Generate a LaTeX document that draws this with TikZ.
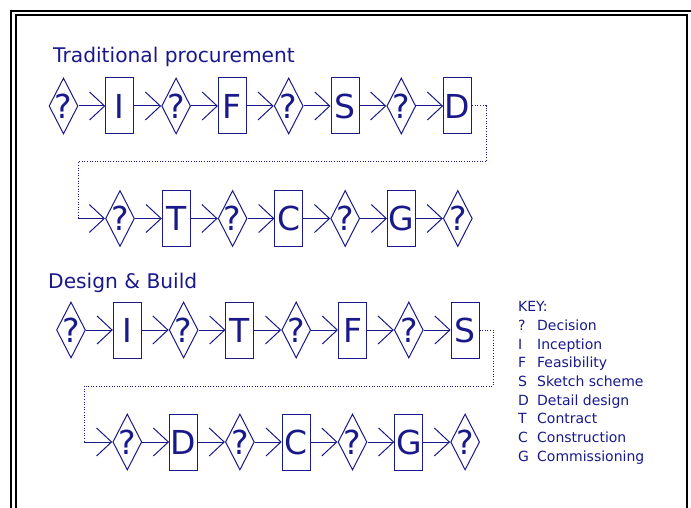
\documentclass[tikz,border=0pt]{standalone}
\usepackage{fontspec}
\setmainfont{DejaVu Sans}
\usetikzlibrary{shapes.geometric,arrows.meta}
\definecolor{navy}{RGB}{25,25,140}
\begin{document}
\begin{tikzpicture}[x=1pt,y=-1pt,
  bigtxt/.style={font=\fontsize{33}{33}\selectfont, text=navy, inner sep=0pt},
  dia/.style={draw=navy, line width=1pt, diamond, minimum width=29pt, minimum height=56pt, inner sep=0pt, label={[bigtxt]center:?}},
  box/.style={draw=navy, line width=1pt, rectangle, minimum width=28pt, minimum height=56pt, inner sep=0pt, font=\fontsize{33}{33}\selectfont, text=navy},
  flow/.style={draw=navy, line width=1pt, -{Straight Barb[length=15pt,width=28pt,line width=1pt]}},
  dotline/.style={draw=navy, line width=1pt, dash pattern=on 1pt off 1.6pt},
  title/.style={font=\fontsize{20.2}{22}\selectfont, text=navy, anchor=base west, inner sep=0pt},
  keytxt/.style={font=\fontsize{14}{16}\selectfont, text=navy, anchor=base west, inner sep=0pt},
  frameline/.style={draw=black, line width=2.5pt}
]
\useasboundingbox (0,0) rectangle (691,508);
\begin{scope}
\clip (0,0) rectangle (691,508);
\draw[frameline] (11,11) rectangle (693,520);
\draw[frameline, line width=2pt] (15.5,15.5) rectangle (687,520);
\end{scope}

% titles
\node[title] (t1title) at (53,63) {Traditional procurement};
\node[title] (t2title) at (48,288) {Design \& Build};

% row 1
\node[dia] (a1) at (63.5,106) {};
\node[box] (a2) at (119.8,106) {I};
\node[dia] (a3) at (176.1,106) {};
\node[box] (a4) at (232.4,106) {F};
\node[dia] (a5) at (288.7,106) {};
\node[box] (a6) at (345.0,106) {S};
\node[dia] (a7) at (401.3,106) {};
\node[box] (a8) at (457.6,106) {D};
% row 2
\node[dia] (b1) at (120.0,218.5) {};
\node[box] (b2) at (176.3,218.5) {T};
\node[dia] (b3) at (232.6,218.5) {};
\node[box] (b4) at (288.9,218.5) {C};
\node[dia] (b5) at (345.2,218.5) {};
\node[box] (b6) at (401.5,218.5) {G};
\node[dia] (b7) at (457.8,218.5) {};
% row 3
\node[dia] (c1) at (71.0,330) {};
\node[box] (c2) at (127.3,330) {I};
\node[dia] (c3) at (183.6,330) {};
\node[box] (c4) at (239.9,330) {T};
\node[dia] (c5) at (296.2,330) {};
\node[box] (c6) at (352.5,330) {F};
\node[dia] (c7) at (408.8,330) {};
\node[box] (c8) at (465.1,330) {S};
% row 4
\node[dia] (d1) at (127.3,442) {};
\node[box] (d2) at (183.6,442) {D};
\node[dia] (d3) at (239.9,442) {};
\node[box] (d4) at (296.2,442) {C};
\node[dia] (d5) at (352.5,442) {};
\node[box] (d6) at (408.8,442) {G};
\node[dia] (d7) at (465.1,442) {};

% arrows
\foreach \p/\q in {a1/a2,a2/a3,a3/a4,a4/a5,a5/a6,a6/a7,a7/a8,
                   b1/b2,b2/b3,b3/b4,b4/b5,b5/b6,b6/b7,
                   c1/c2,c2/c3,c3/c4,c4/c5,c5/c6,c6/c7,c7/c8,
                   d1/d2,d2/d3,d3/d4,d4/d5,d5/d6,d6/d7}
  \draw[flow] (\p) -- (\q);

% dotted links
\coordinate (p1) at (486,106);
\coordinate (p2) at (486,162);
\coordinate (p3) at (78,162);
\coordinate (p4) at (78,218.5);
\draw[dotline] (a8.east) -- (p1) -- (p2) -- (p3) -- (p4);
\draw[flow] (p4) -- (b1);

\coordinate (q1) at (493,330);
\coordinate (q2) at (493,386);
\coordinate (q3) at (84,386);
\coordinate (q4) at (84,442);
\draw[dotline] (c8.east) -- (q1) -- (q2) -- (q3) -- (q4);
\draw[flow] (q4) -- (d1);

% key
\node[keytxt] (k0) at (518,311) {KEY:};
\node[keytxt] (k1s) at (518,330) {?};
\node[keytxt] (k1t) at (537,330) {Decision};
\node[keytxt] (k2s) at (518,349) {I};
\node[keytxt] (k2t) at (537,349) {Inception};
\node[keytxt] (k3s) at (518,367.5) {F};
\node[keytxt] (k3t) at (537,367.5) {Feasibility};
\node[keytxt] (k4s) at (518,386) {S};
\node[keytxt] (k4t) at (537,386) {Sketch scheme};
\node[keytxt] (k5s) at (518,405) {D};
\node[keytxt] (k5t) at (537,405) {Detail design};
\node[keytxt] (k6s) at (518,423.5) {T};
\node[keytxt] (k6t) at (537,423.5) {Contract};
\node[keytxt] (k7s) at (518,442) {C};
\node[keytxt] (k7t) at (537,442) {Construction};
\node[keytxt] (k8s) at (518,461) {G};
\node[keytxt] (k8t) at (537,461) {Commissioning};
\end{tikzpicture}
\end{document}
